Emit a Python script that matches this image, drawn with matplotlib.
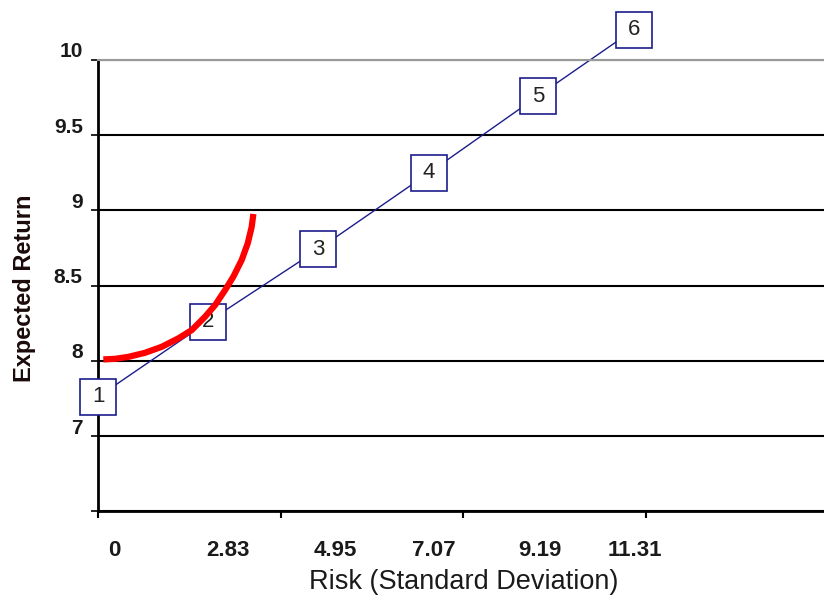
import numpy as np
import matplotlib.pyplot as plt
from matplotlib.transforms import ScaledTranslation

plt.rcParams['font.family'] = ['Liberation Sans', 'DejaVu Sans']

# portfolios (x = position on the category axis)
puntos_x = [0, 1, 2, 3.01, 4, 4.87]
puntos_y = [7.76, 8.26, 8.74, 9.25, 9.76, 10.2]
etiquetas = ['1', '2', '3', '4', '5', '6']
riesgo = ['0', '2.83', '4.95', '7.07', '9.19', '11.31']
riesgo_pos = [0.145, 1.18, 2.16, 3.05, 4.02, 4.88]

# indifference curve
curva_x = [0.048, 0.155, 0.275, 0.427, 0.579, 0.730, 0.852, 0.973,
           1.064, 1.155, 1.230, 1.306, 1.361, 1.397, 1.412]
curva_y = [8.009, 8.013, 8.026, 8.053, 8.093, 8.149, 8.204, 8.293,
           8.370, 8.470, 8.559, 8.670, 8.781, 8.891, 8.976]

y_ticks = [7, 7.5, 8, 8.5, 9, 9.5, 10]
y_labels = ['', '7', '8', '8.5', '9', '9.5', '10']

fig = plt.figure(figsize=(8.24, 6.05), dpi=100)
ax = fig.add_axes([0.119, 0.155, 0.881, 0.746])

azul = '#1c1c8c'
ax.plot(puntos_x, puntos_y, color=azul, lw=1, zorder=2, clip_on=False)
ax.plot(puntos_x, puntos_y, 's', ms=26, mfc='white', mec=azul, mew=1.2,
        zorder=3, clip_on=False)
for x, y, t in zip(puntos_x, puntos_y, etiquetas):
    ax.text(x, y, t, ha='center', va='center', fontsize=16, color='#222222',
            zorder=4, clip_on=False)
ax.plot(curva_x, curva_y, color='red', lw=4.5, solid_capstyle='butt',
        solid_joinstyle='round', zorder=5)

ax.set_xlim(0, 6.6)
ax.set_ylim(7, 10)

ax.set_yticks(y_ticks)
ax.set_yticklabels(y_labels, fontweight='bold', fontsize=15, color='#1a1a1a')
ax.tick_params(axis='y', length=5, width=1.2, pad=6)
desplaza = ScaledTranslation(0, 0.1, fig.dpi_scale_trans)
for lab in ax.get_yticklabels():
    lab.set_transform(lab.get_transform() + desplaza)
ax.grid(axis='y', color='black', lw=1.5)

ax.set_xticks(np.arange(0, 6.6, 1.66))
ax.set_xticklabels([])
ax.tick_params(axis='x', which='major', length=5, width=1.5, direction='out')
ax.set_xticks(riesgo_pos, minor=True)
ax.set_xticklabels(riesgo, minor=True, fontweight='bold', fontsize=16, color='#1a1a1a')
ax.tick_params(axis='x', which='minor', length=0, pad=21)

ax.spines['right'].set_visible(False)
ax.spines['top'].set_color('#999999')
ax.spines['top'].set_linewidth(1.5)
ax.spines['left'].set_linewidth(2)
ax.spines['bottom'].set_linewidth(2)

fig.text(25 / 824, 1 - 288 / 605, 'Expected Return', rotation=90, ha='center',
         va='center', fontsize=17, fontweight='bold', color='#1a0a0a')
fig.text(464 / 824, 1 - 582 / 605, 'Risk (Standard Deviation)', ha='center',
         va='center', fontsize=19.5, color='#1a1a1a')

plt.savefig('out.png', dpi=100)
